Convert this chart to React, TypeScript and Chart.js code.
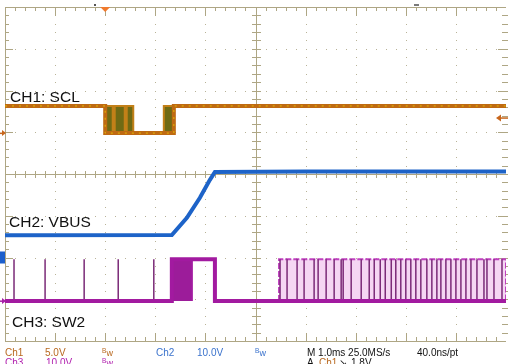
import React, { useEffect, useRef } from 'react';
import { Chart, registerables } from 'chart.js';

Chart.register(...registerables);

// ---- Data (time in divisions 0..10, level in divisions -4..4) ----
// CH1: SCL
const sclTimes = [0, 2.0, 2.0, 3.37, 3.37, 10];
const sclLevels = [1.63, 1.63, 0.98, 0.98, 1.63, 1.63];
const sclHigh = 1.63;
const sclLow = 0.98;
const sclBurstStarts = [2.0, 2.19, 2.43, 3.17];
const sclBurstEnds = [2.15, 2.39, 2.56, 3.37];

// CH2: VBUS
const vbusTimes = [0, 3.33, 3.63, 3.89, 4.09, 4.19, 6.0, 10];
const vbusLevels = [-1.47, -1.46, -1.05, -0.57, -0.14, 0.05, 0.06, 0.06];

// CH3: SW2
const sw2Times = [0, 3.33, 3.33, 4.19, 4.19, 10];
const sw2Levels = [-3.04, -3.04, -2.04, -2.04, -3.04, -3.04];
const sw2High = -2.04;
const sw2Low = -3.04;
const sw2DenseStarts = [3.33];
const sw2DenseEnds = [3.73];
const sw2ActivityStarts = [5.47];
const sw2ActivityEnds = [10];
const sw2SpikeTimes = [
  0.18, 0.8, 1.58, 2.26, 2.97,
  5.49, 5.63, 5.83, 5.97, 6.17, 6.25, 6.41, 6.57, 6.71, 6.75, 6.91, 7.11,
  7.27, 7.37, 7.49, 7.59, 7.71, 7.8, 7.9, 8.0, 8.1, 8.2, 8.3, 8.42, 8.52,
  8.62, 8.7, 8.8, 8.9, 9.0, 9.1, 9.2, 9.3, 9.42, 9.56, 9.62, 9.76, 9.92,
];

// Markers / status
const triggerTime = 2.0;
const triggerLevel = 1.34;
const ch1Ground = 0.98;
const ch2Ground = -2.0;
const ch3Ground = -3.04;
const traceLabels = ['CH1: SCL', 'CH2: VBUS', 'CH3: SW2'];
const statusRow1 = ['Ch1', '5.0V', 'Ch2', '10.0V', 'M 1.0ms 25.0MS/s', '40.0ns/pt'];
const statusRow2 = ['Ch3', '10.0V', 'A', 'Ch1', '\u2198', '1.8V'];

const pts = (ts: number[], vs: number[]) => ts.map((t, i) => ({ x: t, y: vs[i] }));
const envelope = (starts: number[], ends: number[], lo: number, hi: number) =>
  starts.flatMap((a, i) => [
    { x: a, y: lo },
    { x: a, y: hi },
    { x: ends[i], y: hi },
    { x: ends[i], y: lo },
    { x: ends[i], y: null as any },
  ]);
const spikes = (ts: number[], lo: number, hi: number) =>
  ts.flatMap((t) => [
    { x: t, y: lo },
    { x: t, y: hi },
    { x: t, y: null as any },
  ]);

const GRID = '#aea684';
const DOT = '#b9b398';

const graticule = {
  id: 'graticule',
  beforeDatasetsDraw(chart: any) {
    const { ctx, chartArea } = chart;
    const xs = chart.scales.x;
    const ys = chart.scales.y;
    const { left, right, top, bottom } = chartArea;
    const X = (v: number) => Math.round(xs.getPixelForValue(v));
    const Y = (v: number) => Math.round(ys.getPixelForValue(v));
    ctx.save();
    ctx.fillStyle = DOT;
    for (let i = 1; i < 10; i++) {
      if (i === 5) continue;
      for (let j = 1; j < 40; j++) ctx.fillRect(X(i), Y(-4 + j * 0.2), 1, 1);
    }
    for (let i = -3; i <= 3; i++) {
      if (i === 0) continue;
      for (let j = 1; j < 50; j++) ctx.fillRect(X(j * 0.2), Y(i), 1, 1);
    }
    ctx.fillStyle = GRID;
    // borders
    ctx.fillRect(left, top, right - left, 1);
    ctx.fillRect(left, bottom, right - left, 1);
    ctx.fillRect(left, top, 1, bottom - top);
    // center lines
    const cx = X(5);
    const cy = Y(0);
    ctx.fillRect(cx, top, 1, bottom - top);
    ctx.fillRect(left, cy, right - left, 1);
    // ticks along x
    for (let j = 1; j < 50; j++) {
      const px = X(j * 0.2);
      const major = j % 5 === 0;
      ctx.fillRect(px, top, 1, major ? 9 : 4);
      ctx.fillRect(px, bottom - (major ? 8 : 4), 1, major ? 8 : 4);
      ctx.fillRect(px, cy - 3, 1, 7);
    }
    // ticks along y
    for (let j = 1; j < 40; j++) {
      const py = Y(-4 + j * 0.2);
      const major = j % 5 === 0;
      ctx.fillRect(left, py, major ? 8 : 4, 1);
      ctx.fillRect(right - (major ? 8 : 4), py, major ? 10 : 6, 1);
      ctx.fillRect(cx - 4, py, 9, 1);
    }
    ctx.restore();
  },
  afterDraw(chart: any) {
    const { ctx } = chart;
    const xs = chart.scales.x;
    const ys = chart.scales.y;
    const X = (v: number) => xs.getPixelForValue(v);
    const Y = (v: number) => ys.getPixelForValue(v);
    ctx.save();
    // trace labels
    ctx.font = '15.5px "Liberation Sans", Arial, sans-serif';
    ctx.fillStyle = '#111';
    ctx.textBaseline = 'alphabetic';
    ctx.fillText(traceLabels[0], 10, 102);
    ctx.fillText(traceLabels[1], 9, 227);
    ctx.fillText(traceLabels[2], 12, 327);

    // trigger position marker (top)
    const tx = X(triggerTime);
    ctx.fillStyle = '#f07a2e';
    ctx.beginPath();
    ctx.moveTo(tx - 5, 7);
    ctx.lineTo(tx + 5, 7);
    ctx.lineTo(tx, 12);
    ctx.closePath();
    ctx.fill();
    ctx.fillStyle = '#555';
    ctx.fillRect(94, 4, 2, 2);
    ctx.fillStyle = '#7a7a7a';
    ctx.fillRect(414, 4, 5, 2);

    // ground markers (left)
    const arrowRight = (y: number, col: string) => {
      ctx.fillStyle = col;
      ctx.fillRect(0, y - 0.5, 2, 1.5);
      ctx.beginPath();
      ctx.moveTo(2, y - 3);
      ctx.lineTo(6, y);
      ctx.lineTo(2, y + 3);
      ctx.closePath();
      ctx.fill();
    };
    arrowRight(Y(ch1Ground), '#c8661c');
    arrowRight(Y(ch3Ground), '#a820a6');
    ctx.fillStyle = '#1c5fcc';
    const g2 = Y(ch2Ground);
    ctx.fillRect(0, g2 - 6, 5, 12);

    // trigger level marker (right)
    const ty = Y(triggerLevel);
    ctx.fillStyle = '#c8661c';
    ctx.beginPath();
    ctx.moveTo(496, ty);
    ctx.lineTo(501, ty - 3.5);
    ctx.lineTo(501, ty + 3.5);
    ctx.closePath();
    ctx.fill();
    ctx.fillRect(500, ty - 0.75, 8, 1.5);

    // status text
    const small = '10px "Liberation Sans", Arial, sans-serif';
    const ORANGE = '#b8681e';
    const BLUE = '#3a72cc';
    const MAG = '#b020ae';
    const bw = (x: number, y: number, col: string) => {
      ctx.fillStyle = col;
      ctx.font = '6.5px "Liberation Sans", Arial, sans-serif';
      ctx.fillText('B', x, y - 3);
      ctx.font = '9px "Liberation Sans", Arial, sans-serif';
      ctx.fillText('w', x + 4.5, y);
    };
    const t = (s: string, x: number, y: number, col: string) => {
      ctx.font = small;
      ctx.fillStyle = col;
      ctx.fillText(s, x, y);
    };
    const r1 = 356;
    const r2 = 366;
    t(statusRow1[0], 5, r1, ORANGE);
    t(statusRow1[1], 45, r1, ORANGE);
    bw(102, r1, ORANGE);
    t(statusRow1[2], 156, r1, BLUE);
    t(statusRow1[3], 197, r1, BLUE);
    bw(255, r1, BLUE);
    t(statusRow1[4], 307, r1, '#111');
    t(statusRow1[5], 417, r1, '#111');
    t(statusRow2[0], 5, r2, MAG);
    t(statusRow2[1], 46, r2, MAG);
    bw(102, r2, MAG);
    t(statusRow2[2], 307, r2, '#111');
    t(statusRow2[3], 319, r2, ORANGE);
    t(statusRow2[4], 339, r2, '#111');
    t(statusRow2[5], 351, r2, '#111');
    ctx.restore();
  },
};

export default function App() {
  const ref = useRef<HTMLCanvasElement | null>(null);
  useEffect(() => {
    document.body.style.margin = '0';
    const canvas = ref.current!;
    const chart = new Chart(canvas, {
      type: 'line',
      data: {
        datasets: [
          {
            label: 'SCL',
            data: pts(sclTimes, sclLevels),
            borderColor: '#bf6a12',
            borderWidth: 4,
            order: 1,
          },
          {
            label: 'SCL speckle',
            data: pts(sclTimes, sclLevels),
            borderColor: 'rgba(232,200,0,0.85)',
            borderWidth: 1,
            borderDash: [2, 5],
            order: 0,
          },
          {
            label: 'SCL bursts',
            data: envelope(sclBurstStarts, sclBurstEnds, sclLow, sclHigh),
            borderColor: '#c28018',
            borderWidth: 2,
            backgroundColor: '#6f6a14',
            fill: { value: sclLow },
            order: 2,
          },
          {
            label: 'VBUS',
            data: pts(vbusTimes, vbusLevels),
            borderColor: '#1d63c8',
            borderWidth: 4,
            order: 3,
          },
          {
            label: 'SW2',
            data: pts(sw2Times, sw2Levels),
            borderColor: '#a21aa0',
            borderWidth: 4,
            order: 4,
          },
          {
            label: 'SW2 dense',
            data: envelope(sw2DenseStarts, sw2DenseEnds, sw2Low, sw2High),
            borderColor: '#a21aa0',
            borderWidth: 2,
            backgroundColor: '#9c1c9a',
            fill: { value: sw2Low },
            order: 5,
          },
          {
            label: 'SW2 spikes',
            data: spikes(sw2SpikeTimes, sw2Low, sw2High),
            borderColor: '#7b2b78',
            borderWidth: 1.5,
            order: 6,
          },
          {
            label: 'SW2 activity',
            data: envelope(sw2ActivityStarts, sw2ActivityEnds, sw2Low, sw2High),
            borderColor: '#c040c0',
            borderWidth: 2,
            borderDash: [6, 2],
            backgroundColor: '#f5d6f3',
            fill: { value: sw2Low },
            order: 7,
          },
        ] as any,
      },
      options: {
        responsive: false,
        animation: false,
        devicePixelRatio: 1,
        spanGaps: false,
        layout: { padding: { left: 5, right: 2, top: 7, bottom: 23 } },
        elements: { point: { radius: 0 }, line: { tension: 0, borderCapStyle: 'butt' } },
        scales: {
          x: { type: 'linear', min: 0, max: 10, display: false },
          y: { type: 'linear', min: -4, max: 4, display: false },
        },
        plugins: { legend: { display: false }, tooltip: { enabled: false } },
      } as any,
      plugins: [graticule],
    });
    return () => chart.destroy();
  }, []);
  return (
    <div style={{ width: 508, height: 364, background: '#fff' }}>
      <canvas ref={ref} width={508} height={364} style={{ display: 'block' }} />
    </div>
  );
}
